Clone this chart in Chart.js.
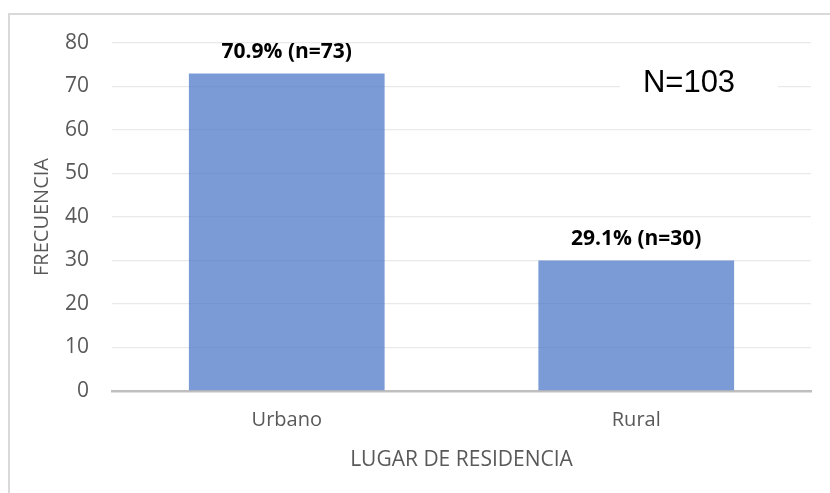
<!DOCTYPE html>
<html>
<head>
<meta charset="utf-8">
<script src="https://cdn.jsdelivr.net/npm/chart.js@4.4.0/dist/chart.umd.min.js"></script>
<style>
    html, body { margin: 0; padding: 0; background: #fff; overflow: hidden; }
    #wrap { position: relative; width: 830px; height: 493px; }
    #frame {
        position: absolute; left: 8px; top: 13px;
        width: 900px; height: 600px;
        border: 2px solid #d9d9d9; box-sizing: border-box;
    }
    canvas { position: absolute; left: 0; top: 0; }
</style>
</head>
<body>
<div id="wrap">
    <div id="frame"></div>
    <canvas id="residencia-chart" width="830" height="493"></canvas>
</div>
<script>
// Data
const categories = ['Urbano', 'Rural'];
const frequencies = [73, 30];
const percentages = ['70.9%', '29.1%'];
const totalN = 103;
const yTicks = [0, 10, 20, 30, 40, 50, 60, 70, 80];

const barColor = 'rgba(68, 114, 196, 0.71)';
const textGrey = '#595959';

/**
 * Draws the "70.9% (n=73)" labels above each bar
 */
const barLabels = {
    id: 'barLabels',
    afterDatasetsDraw(chart) {
        const ctx = chart.ctx;
        const meta = chart.getDatasetMeta(0);
        ctx.save();
        ctx.font = 'bold 21px "Open Sans"';
        ctx.fillStyle = '#000';
        ctx.textAlign = 'center';
        ctx.textBaseline = 'middle';
        meta.data.forEach((bar, i) => {
            const text = `${percentages[i]} (n=${frequencies[i]})`;
            ctx.fillText(text, bar.x, bar.y - 21);
        });
        ctx.restore();
    }
};

/**
 * Draws the "N=103" box in the upper right corner
 */
const totalBox = {
    id: 'totalBox',
    afterDatasetsDraw(chart) {
        const ctx = chart.ctx;
        const yScale = chart.scales.y;
        const cy = yScale.getPixelForValue(70) - 3;
        ctx.save();
        ctx.fillStyle = '#fff';
        ctx.fillRect(620, cy - 20, 158, 40);
        ctx.font = '31px "Liberation Sans", Arial, sans-serif';
        ctx.fillStyle = '#000';
        ctx.textAlign = 'center';
        ctx.textBaseline = 'middle';
        ctx.fillText(`N=${totalN}`, 689, cy);
        ctx.restore();
    }
};

const ctx = document.getElementById('residencia-chart');

new Chart(ctx, {
    type: 'bar',
    data: {
        labels: categories,
        datasets: [{
            label: 'Frecuencia',
            data: frequencies,
            backgroundColor: barColor,
            borderWidth: 0,
            barPercentage: 0.56,
            categoryPercentage: 1.0
        }]
    },
    options: {
        responsive: false,
        animation: false,
        layout: {
            padding: { left: 30, right: 19, top: 43, bottom: 20 }
        },
        plugins: {
            legend: { display: false },
            tooltip: { enabled: false }
        },
        scales: {
            y: {
                min: 0,
                max: 80,
                afterBuildTicks: (scale) => {
                    scale.ticks = yTicks.map(v => ({ value: v }));
                },
                afterFit: (scale) => { scale.width = 82; },
                grid: {
                    color: (c) => c.tick && c.tick.value === 0 ? 'rgba(0,0,0,0)' : '#e9e9e9',
                    lineWidth: 1.3,
                    drawTicks: false
                },
                border: { display: false },
                ticks: {
                    color: textGrey,
                    padding: 23,
                    font: { family: '"Open Sans"', size: 21 }
                },
                title: {
                    display: true,
                    text: 'FRECUENCIA',
                    color: textGrey,
                    font: { family: '"Open Sans"', size: 20 },
                    padding: { top: 0, bottom: 0 }
                }
            },
            x: {
                afterFit: (scale) => { scale.height = 82; },
                grid: { display: false, drawTicks: false },
                border: { display: true, color: '#bfbfbf', width: 2.5 },
                ticks: {
                    color: textGrey,
                    padding: 17,
                    font: { family: '"Open Sans"', size: 20 }
                },
                title: {
                    display: true,
                    text: 'LUGAR DE RESIDENCIA',
                    color: textGrey,
                    font: { family: '"Open Sans"', size: 21 },
                    padding: { top: 10, bottom: 0 }
                }
            }
        }
    },
    plugins: [barLabels, totalBox]
});
</script>
</body>
</html>
